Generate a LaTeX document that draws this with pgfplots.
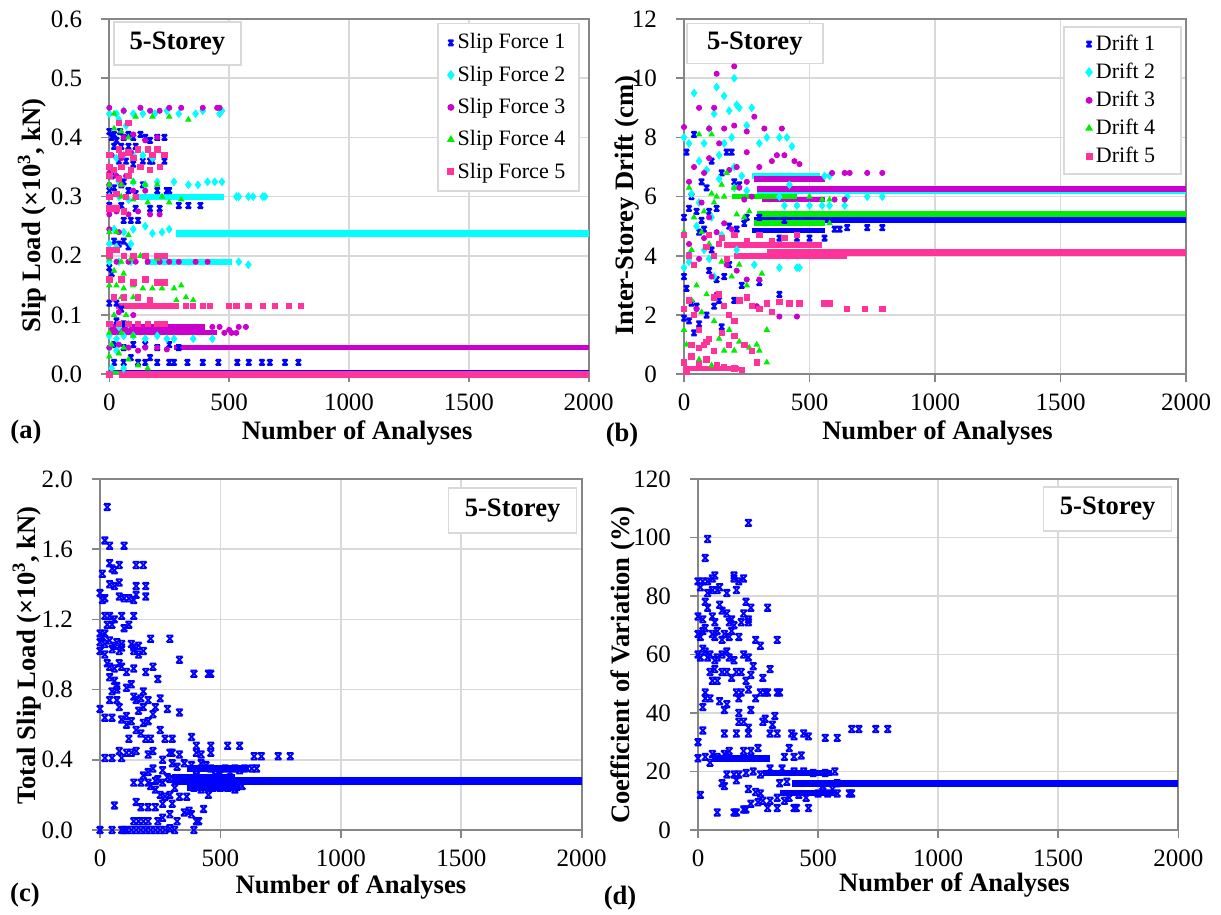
\documentclass[border=0pt]{standalone}
\usepackage{pgfplots}
\pgfplotsset{compat=1.18}
\usepackage{fontspec}
\setmainfont{Liberation Serif}

\definecolor{sfA}{HTML}{0000FF}
\definecolor{sfB}{HTML}{00FFFF}
\definecolor{sfC}{HTML}{CC00CC}
\definecolor{sfD}{HTML}{00EE00}
\definecolor{sfE}{HTML}{FF3399}
\definecolor{gridgray}{HTML}{D9D9D9}
\definecolor{framegray}{HTML}{868686}

% Excel-like "x" marker with bars on top and bottom
\pgfdeclareplotmark{xbar}{%
  \pgfpathmoveto{\pgfqpoint{-\pgfplotmarksize}{\pgfplotmarksize}}%
  \pgfpathlineto{\pgfqpoint{\pgfplotmarksize}{-\pgfplotmarksize}}%
  \pgfpathmoveto{\pgfqpoint{\pgfplotmarksize}{\pgfplotmarksize}}%
  \pgfpathlineto{\pgfqpoint{-\pgfplotmarksize}{-\pgfplotmarksize}}%
  \pgfpathmoveto{\pgfqpoint{-\pgfplotmarksize}{\pgfplotmarksize}}%
  \pgfpathlineto{\pgfqpoint{\pgfplotmarksize}{\pgfplotmarksize}}%
  \pgfpathmoveto{\pgfqpoint{-\pgfplotmarksize}{-\pgfplotmarksize}}%
  \pgfpathlineto{\pgfqpoint{\pgfplotmarksize}{-\pgfplotmarksize}}%
  \pgfusepathqstroke}

\newcommand{\labfont}{\bfseries\fontsize{13.3}{15}\selectfont}

\tikzset{storey/.style={draw=gridgray, line width=0.8pt, fill=white,
    font=\labfont, inner sep=0pt}}

\pgfplotsset{
  panel/.style={
    scale only axis, clip=false,
    xmin=0, xmax=2000, xtick={0,500,1000,1500,2000},
    grid=major, major grid style={draw=gridgray, line width=0.8pt},
    axis line style={draw=framegray, line width=1.1pt},
    tick style={draw=framegray, line width=0.8pt},
    tick align=outside, major tick length=4pt,
    xtick pos=left, ytick pos=left,
    ticklabel style={font=\fontsize{12.5}{14}\selectfont},
    xticklabel style={inner sep=1pt},
    /pgf/number format/assume math mode=true,
    /pgf/number format/1000 sep={},
    xticklabel shift=4.5pt, yticklabel shift=6pt,
    xlabel={Number of Analyses},
    legend style={draw=gridgray, line width=0.8pt, fill=white,
      font=\fontsize{11}{13}\selectfont, row sep=3pt,
      inner ysep=3pt},
    legend cell align=left,
  },
  ylab/.style 2 args={every axis y label/.style={at={(axis description cs:#1,#2)},
    rotate=90, anchor=center, font=\labfont}},
  xlab/.style 2 args={every axis x label/.style={at={(axis description cs:#1,#2)},
    anchor=center, font=\labfont, inner sep=0pt}},
  s1/.style={only marks, mark=xbar, mark size=1.3pt, color=sfA, line width=0.9pt},
  s2/.style={only marks, mark=diamond*, mark size=1.9pt, color=sfB},
  s3/.style={only marks, mark=*, mark size=1.3pt, color=sfC},
  s4/.style={only marks, mark=triangle*, mark size=1.5pt, color=sfD},
  s5/.style={only marks, mark=square*, mark size=1.35pt, color=sfE},
  band/.style={no marks, forget plot, line width=#1},
}

\begin{document}
\begin{tikzpicture}
\useasboundingbox (0,0) rectangle (610.5pt,457.5pt);

% ---------------- (a) slip loads of the five dampers ----------------
\begin{axis}[panel, at={(54.65pt,270.35pt)}, anchor=south west,
  width=239.7pt, height=177.65pt,
  ymin=0, ymax=0.6, ytick={0,0.1,0.2,0.3,0.4,0.5,0.6},
  yticklabel style={/pgf/number format/.cd, fixed, fixed zerofill, precision=1},
  ylabel={Slip Load (\texttimes10\textsuperscript{3}, kN)},
  ylab={-0.161}{0.448}, xlab={0.517}{-0.164},
  legend style={at={(0.982,0.989)}, anchor=north east,
    inner xsep=5pt}]

\addplot[s1] coordinates {
(0,0.41) (10,0.40) (20,0.405) (30,0.395) (45,0.41) (60,0.40) (80,0.405) (100,0.40)
(130,0.405) (150,0.40) (170,0.395) (200,0.40) (230,0.40)
(20,0.385) (50,0.385) (80,0.385) (110,0.385)
(40,0.36) (70,0.36) (100,0.355) (140,0.36) (170,0.36) (180,0.36) (230,0.36)
(10,0.335) (40,0.33) (60,0.325)
(0,0.31) (20,0.315) (50,0.32) (80,0.31) (110,0.305) (140,0.32) (200,0.31) (240,0.31) (250,0.31)
(0,0.285) (20,0.28) (50,0.285) (110,0.28) (170,0.28) (210,0.28) (290,0.285) (330,0.285) (380,0.285)
(60,0.26) (90,0.26) (120,0.26)
(20,0.225) (40,0.22) (60,0.225) (80,0.215)
(0,0.18) (10,0.17) (0,0.12) (30,0.12) (50,0.11) (30,0.09) (60,0.085)
(20,0.05) (60,0.045) (100,0.05) (150,0.05) (200,0.045) (250,0.05) (290,0.045)
(20,0.02) (60,0.02) (90,0.028) (120,0.02) (150,0.02) (170,0.028) (200,0.02) (250,0.02)
(270,0.02) (326,0.02) (390,0.02) (455,0.02) (534,0.02) (582,0.02) (637,0.02) (670,0.02)
(733,0.02) (789,0.02)
};
\addlegendentry{Slip Force 1}
\addplot[band=1.5pt, sfA] coordinates {(0,0.005) (2000,0.005)};

\addplot[s2] coordinates {
(0,0.44) (30,0.44) (60,0.445) (100,0.44) (140,0.44) (190,0.44) (240,0.445) (290,0.44)
(360,0.44) (390,0.445) (460,0.44) (470,0.445) (40,0.43) (70,0.42)
(0,0.37) (30,0.365) (60,0.37) (100,0.37) (140,0.37) (180,0.365)
(0,0.32) (40,0.325) (100,0.325) (150,0.32) (200,0.325) (270,0.325) (330,0.32) (370,0.32)
(410,0.325) (440,0.325) (470,0.325)
(0,0.30) (40,0.30) (80,0.295) (530,0.30) (540,0.30) (580,0.30) (600,0.30) (640,0.30) (650,0.30)
(20,0.245) (60,0.24) (100,0.245) (150,0.25) (180,0.238) (220,0.24) (250,0.245)
(0,0.22) (30,0.215) (90,0.22)
(0,0.19) (40,0.19) (90,0.19) (540,0.19) (580,0.185)
(0,0.085) (40,0.08) (80,0.085)
(0,0.065) (30,0.06) (60,0.065) (100,0.065) (150,0.06) (200,0.065) (240,0.06) (270,0.06)
(350,0.06) (430,0.06) (0,0.045) (30,0.04) (60,0.01) (10,0.01)
};
\addlegendentry{Slip Force 2}
\addplot[band=3pt, sfB] coordinates {(120,0.30) (480,0.30)};
\addplot[band=3pt, sfB] coordinates {(150,0.19) (510,0.19)};
\addplot[band=3.2pt, sfB] coordinates {(280,0.238) (2000,0.238)};

\addplot[s3] coordinates {
(0,0.45) (60,0.445) (130,0.45) (170,0.445) (210,0.445) (250,0.45) (300,0.45) (390,0.45) (450,0.45) (460,0.45)
(60,0.40) (100,0.405) (150,0.395) (200,0.40)
(10,0.37) (50,0.365) (90,0.375) (0,0.34) (30,0.335) (70,0.335)
(0,0.32) (50,0.32) (100,0.31) (150,0.31)
(0,0.27) (30,0.275) (80,0.27) (120,0.275) (170,0.27) (210,0.27) (0,0.245) (40,0.24)
(30,0.19) (80,0.19) (110,0.19) (160,0.19) (210,0.19) (250,0.19) (290,0.19) (360,0.19) (410,0.19)
(100,0.10) (40,0.105)
(430,0.08) (460,0.08) (500,0.075) (540,0.08) (570,0.08)
(480,0.07) (510,0.07) (530,0.07)
(0,0.045) (40,0.05) (80,0.045) (120,0.04) (150,0.045) (200,0.045) (240,0.042)
};
\addlegendentry{Slip Force 3}
\addplot[band=2.6pt, sfC] coordinates {(0,0.08) (400,0.08)};
\addplot[band=2.6pt, sfC] coordinates {(0,0.07) (450,0.07)};
\addplot[band=2.8pt, sfC] coordinates {(270,0.045) (2000,0.045)};

\addplot[s4] coordinates {
(20,0.44) (110,0.435) (180,0.435) (250,0.435) (330,0.43)
(20,0.415) (50,0.41) (80,0.40)
(0,0.32) (50,0.32) (100,0.325) (150,0.32) (200,0.32)
(50,0.30) (100,0.295) (160,0.29) (220,0.30) (250,0.29) (300,0.295)
(30,0.24) (80,0.235) (0,0.24)
(0,0.195) (50,0.19) (90,0.195) (130,0.20) (200,0.195) (20,0.175) (60,0.17)
(0,0.15) (30,0.15) (60,0.145) (100,0.15) (140,0.145) (180,0.145) (220,0.145) (270,0.145) (300,0.15)
(50,0.13) (100,0.13) (280,0.125) (320,0.13) (350,0.125)
(20,0.10) (70,0.10) (0,0.07) (50,0.07) (100,0.065) (10,0.05) (60,0.045)
(0,0.03) (40,0.035) (80,0.025) (120,0.015) (160,0.01)
};
\addlegendentry{Slip Force 4}
\addplot[band=1.5pt, sfD] coordinates {(0,0.003) (2000,0.003)};

\addplot[s5] coordinates {
(40,0.425) (80,0.425)
(40,0.38) (80,0.375) (120,0.38) (160,0.38) (200,0.38)
(0,0.37) (50,0.37) (100,0.365) (180,0.37) (230,0.37)
(0,0.35) (20,0.345) (50,0.35) (90,0.345) (130,0.35) (170,0.345) (210,0.35)
(0,0.335) (40,0.33) (80,0.335)
(0,0.30) (30,0.305) (70,0.30) (110,0.30) (0,0.28) (30,0.28) (60,0.275)
(0,0.21) (30,0.21) (0,0.20) (60,0.20) (100,0.20) (150,0.20) (200,0.20) (230,0.20)
(0,0.16) (50,0.16) (100,0.155) (150,0.16) (200,0.155) (230,0.155)
(20,0.13) (60,0.13) (120,0.13) (170,0.125)
(320,0.115) (350,0.115) (390,0.115) (420,0.115) (500,0.115) (530,0.115) (580,0.115) (640,0.115)
(690,0.115) (750,0.115) (800,0.115)
(0,0.085) (40,0.085) (80,0.085) (120,0.085) (160,0.085) (200,0.085) (230,0.085)
(0,0.0)
};
\addlegendentry{Slip Force 5}
\addplot[band=2.8pt, sfE] coordinates {(30,0.115) (290,0.115)};
\addplot[band=3.4pt, sfE] coordinates {(40,0.0) (2000,0.0)};

\node[storey, anchor=north west, minimum width=63.5pt, minimum height=21.5pt]
  at (axis description cs:0.008,0.994) {5-Storey};
\end{axis}

% ---------------- (b) inter-storey drifts ----------------
\begin{axis}[panel, at={(342pt,270.35pt)}, anchor=south west,
  width=251pt, height=177.65pt,
  ymin=0, ymax=12, ytick={0,2,4,6,8,10,12},
  ylabel={Inter-Storey Drift (cm)},
  ylab={-0.114}{0.474}, xlab={0.505}{-0.164},
  legend style={at={(0.992,0.980)}, anchor=north east, row sep=0.8pt,
    inner xsep=11pt, inner ysep=2pt}]

\addplot[s1] coordinates {
(10,7.5) (40,8.1) (0,5.3) (20,5.6) (30,6.0) (50,5.5) (70,5.2) (100,5.5) (130,5.6) (150,6.8)
(170,7.5) (190,7.5) (200,6.5) (220,6.4) (60,4.8) (80,4.9) (110,4.2) (20,4.0) (0,3.3) (10,2.9)
(30,2.4) (50,2.3) (0,1.9) (20,1.8) (40,1.4) (60,1.7) (90,2.0) (120,2.3) (140,2.5) (160,3.3)
(180,3.7) (200,2.5) (230,3.0) (300,3.1) (100,3.5) (130,3.2) (380,2.7) (150,1.6) (70,6.5)
(110,7.2) (90,6.3) (250,5.3) (300,5.3) (400,5.2) (180,5.0) (210,4.9) (240,5.1)
(600,4.9) (620,4.9) (650,4.95) (730,4.95) (790,4.95)
(380,4.6) (450,4.6) (500,4.6) (560,4.6)
};
\addlegendentry{Drift 1}
\addplot[band=2.8pt, sfA] coordinates {(270,4.85) (560,4.85)};
\addplot[band=3pt, sfA] coordinates {(280,5.2) (2000,5.2)};

\addplot[s2] coordinates {
(0,8.0) (20,7.8) (40,9.5) (60,7.2) (80,7.8) (100,8.3) (120,8.8) (130,9.7) (160,9.4) (180,8.9)
(200,10.0) (210,9.1) (220,9.0) (270,9.0) (140,7.4) (160,7.8) (190,8.0) (250,8.4) (300,7.8)
(330,8.0) (380,8.0) (410,8.0) (430,7.7) (30,6.1) (50,5.0) (80,4.2) (0,3.6) (20,3.8) (100,3.9)
(60,5.8) (140,6.6) (200,7.0) (150,4.7) (90,6.9) (110,5.3) (120,3.3) (280,3.7) (210,4.2)
(380,3.6) (450,3.6) (460,3.6) (380,6.0) (420,6.4) (230,6.7) (250,6.2) (200,6.3)
(560,6.7) (580,6.7) (400,5.7) (450,5.7) (500,5.7) (550,5.7) (580,5.7) (640,5.7)
(650,6.0) (730,6.0) (790,6.0)
};
\addlegendentry{Drift 2}
\addplot[band=2.8pt, sfB] coordinates {(270,6.7) (540,6.7)};
\addplot[band=3pt, sfB] coordinates {(290,6.18) (2000,6.18)};

\addplot[s3] coordinates {
(0,8.35) (60,9.0) (120,9.0) (130,10.15) (200,10.4) (100,8.3) (160,8.3) (200,8.4) (250,8.2)
(280,8.7) (320,8.3) (390,8.3) (40,7.0) (80,6.8) (100,7.3) (140,7.8) (180,6.9) (210,7.0)
(250,7.5) (300,7.0) (350,7.2) (370,7.4) (400,7.4) (440,7.2) (460,7.1) (20,6.5) (70,5.8)
(100,5.3) (130,4.8) (20,4.4) (40,3.7) (60,3.9) (80,4.6) (110,3.3) (130,2.7) (50,2.2)
(170,3.7) (210,3.5) (250,3.2) (300,3.2) (290,2.3) (380,1.95) (450,1.95) (160,5.1) (190,4.9)
(590,6.8) (640,6.8) (660,6.8) (730,6.8) (790,6.8) (600,5.9) (640,5.9)
(220,6.3) (250,6.5) (270,6.0) (240,5.9)
};
\addlegendentry{Drift 3}
\addplot[band=2.8pt, sfC] coordinates {(280,6.6) (560,6.6)};
\addplot[band=2.6pt, sfC] coordinates {(310,5.9) (560,5.9)};
\addplot[band=3pt, sfC] coordinates {(290,6.27) (2000,6.27)};

\addplot[s4] coordinates {
(20,6.3) (60,8.1) (110,8.1) (0,1.5) (10,1.0) (30,2.5) (50,3.0) (70,2.1) (90,2.7) (120,1.8)
(140,1.2) (160,0.8) (180,1.5) (200,0.8) (220,1.1) (260,0.9) (290,1.0) (300,0.8) (330,0.4)
(330,1.5) (310,3.4) (250,3.0) (220,3.7) (190,3.3) (150,3.8) (100,4.4) (70,4.8) (40,5.3)
(30,4.2) (0,4.8) (80,5.5) (130,6.0) (150,6.4) (170,6.8) (120,5.8) (200,6.3) (40,2.0)
(60,0.5) (110,0.3) (500,6.0) (550,5.9) (580,5.9) (580,5.1) (210,5.4) (240,5.3) (260,5.5)
(110,6.1) (160,6.0)
};
\addlegendentry{Drift 4}
\addplot[band=2.6pt, sfD] coordinates {(190,6.0) (450,6.0)};
\addplot[band=2.8pt, sfD] coordinates {(280,5.1) (560,5.1)};
\addplot[band=3pt, sfD] coordinates {(290,5.4) (2000,5.4)};

\addplot[s5] coordinates {
(0,0.4) (30,0.6) (60,0.35) (90,0.5) (130,0.3) (160,0.25) (200,0.2) (230,0.15) (10,0.1)
(0,4.7) (20,4.0) (40,3.7) (0,2.2) (20,2.5) (40,2.0) (60,1.5) (80,1.0) (100,1.2) (120,2.6)
(140,2.7) (160,2.3) (180,2.0) (200,1.8) (220,2.5) (250,2.6) (270,2.3) (300,2.2) (330,2.4)
(350,2.1) (60,0.9) (90,1.1) (120,0.8) (150,1.4) (180,1.0) (200,1.3) (240,1.0) (270,0.8)
(290,0.4) (30,1.0) (380,2.45) (420,2.4) (460,2.4) (560,2.4) (580,2.4) (650,2.2) (720,2.2)
(790,2.2) (100,4.7) (150,4.6) (200,4.7) (250,4.5) (300,4.7) (350,4.5) (400,4.6) (450,4.7)
(90,4.3) (120,4.0) (140,4.4) (170,3.9)
};
\addlegendentry{Drift 5}
\addplot[band=2.6pt, sfE] coordinates {(0,0.2) (220,0.2)};
\addplot[band=3pt, sfE] coordinates {(160,4.35) (550,4.35)};
\addplot[band=3pt, sfE] coordinates {(200,4.0) (650,4.0)};
\addplot[band=3.2pt, sfE] coordinates {(330,4.12) (2000,4.12)};

\node[storey, anchor=north west, minimum width=68pt, minimum height=20pt]
  at (axis description cs:0.004,0.989) {5-Storey};
\end{axis}

% ---------------- (c) total slip load ----------------
\begin{axis}[panel, at={(50pt,42.5pt)}, anchor=south west,
  width=240.85pt, height=175.5pt,
  ymin=0, ymax=2, ytick={0,0.4,0.8,1.2,1.6,2.0},
  yticklabel style={/pgf/number format/.cd, fixed, fixed zerofill, precision=1},
  ylabel={Total Slip Load (\texttimes10\textsuperscript{3}, kN)},
  ylab={-0.152}{0.497}, xlab={0.521}{-0.163}]

\addplot[s1, mark size=1.6pt] coordinates {
(30,1.84) (20,1.65) (40,1.62) (100,1.62) (10,1.46) (40,1.52) (50,1.49) (60,1.48) (80,1.51)
(150,1.51) (180,1.51) (40,1.40) (60,1.39) (80,1.41) (150,1.39) (190,1.39) (0,1.35) (10,1.31)
(20,1.32) (80,1.33) (100,1.32) (120,1.32) (140,1.31) (150,1.34) (190,1.33) (20,1.22) (40,1.22)
(60,1.20) (90,1.22) (140,1.22) (30,1.17) (50,1.17) (100,1.15) (120,1.17) (0,1.12) (10,1.10)
(20,1.12) (0,1.07) (20,1.06) (40,1.08) (60,1.05) (70,1.07) (90,1.06) (130,1.06) (140,1.04)
(160,1.05) (180,1.02) (210,1.09) (290,1.09) (0,1.02) (20,1.00) (50,1.03) (80,1.02) (90,1.04)
(140,1.02) (160,1.00) (30,0.95) (40,0.93) (60,0.92) (80,0.95) (90,0.93) (110,0.90) (140,0.92)
(190,0.90) (220,0.93) (330,0.97) (390,0.89) (450,0.89) (460,0.89) (40,0.87) (60,0.85) (70,0.82)
(110,0.81) (130,0.83) (240,0.86) (50,0.79) (70,0.80) (180,0.79) (140,0.76) (150,0.74) (170,0.75)
(200,0.74) (250,0.75) (40,0.74) (70,0.74) (80,0.70) (0,0.69) (160,0.68) (180,0.70) (230,0.70)
(280,0.69) (330,0.67) (20,0.64) (50,0.64) (90,0.63) (110,0.65) (130,0.62) (150,0.57) (180,0.61)
(200,0.62) (220,0.66) (110,0.60)
(120,0.52) (170,0.55) (190,0.52) (210,0.52) (250,0.57) (270,0.52) (300,0.52) (380,0.53)
(400,0.48) (460,0.48) (530,0.48) (580,0.48) (640,0.42) (670,0.42) (740,0.42) (790,0.42)
(20,0.41) (50,0.41) (90,0.41) (80,0.45) (110,0.44) (130,0.44) (150,0.45) (200,0.43) (220,0.45)
(260,0.40) (290,0.44) (300,0.44) (330,0.43) (400,0.44) (420,0.43) (460,0.44)
(180,0.31) (200,0.33) (220,0.35) (240,0.29) (260,0.34) (280,0.30) (300,0.38) (320,0.36)
(350,0.38) (380,0.37) (400,0.34) (420,0.38) (440,0.37) (460,0.35) (480,0.34) (500,0.32)
(520,0.35) (540,0.33) (560,0.35) (580,0.34) (600,0.35) (630,0.35) (650,0.35)
(210,0.25) (230,0.23) (250,0.20) (270,0.19) (290,0.20) (310,0.24) (330,0.19) (360,0.19)
(390,0.24) (420,0.23) (450,0.20) (470,0.24) (500,0.24) (530,0.24) (560,0.23) (590,0.25)
(200,0.13) (230,0.13) (260,0.15) (300,0.15) (350,0.10) (370,0.11) (430,0.12) (380,0.09)
(140,0.05) (160,0.05) (180,0.05) (200,0.05) (240,0.05) (260,0.07) (290,0.09) (320,0.05)
(400,0.05) (410,0.05) (60,0.14) (150,0.16) (170,0.13) (140,0.27) (170,0.27) (200,0.27)
(230,0.28) (260,0.27) (290,0.29)
(0,0.0) (50,0.0) (90,0.0) (100,0.0) (110,0.0) (130,0.0) (150,0.0) (170,0.0) (190,0.0)
(210,0.0) (230,0.0) (250,0.0) (270,0.0) (290,0.01) (310,0.0) (390,0.0)
};
\addplot[band=3.2pt, sfA] coordinates {(360,0.35) (620,0.35)};
\addplot[band=3pt, sfA] coordinates {(300,0.30) (560,0.30)};
\addplot[band=3pt, sfA] coordinates {(360,0.24) (580,0.24)};
\addplot[band=4pt, sfA] coordinates {(300,0.28) (2000,0.28)};

\node[storey, anchor=north west, minimum width=64pt, minimum height=22.5pt]
  at (axis description cs:0.722,0.977) {5-Storey};
\end{axis}

% ---------------- (d) coefficient of variation ----------------
\begin{axis}[panel, at={(349pt,42.5pt)}, anchor=south west,
  width=240.15pt, height=175.5pt,
  ymin=0, ymax=120, ytick={0,20,40,60,80,100,120},
  ylabel={Coefficient of Variation (\%)},
  ylab={-0.156}{0.47}, xlab={0.534}{-0.157}]

\addplot[s1, mark size=1.6pt] coordinates {
(40,99.5) (30,93) (210,105) (20,85) (0,85) (10,83) (40,85) (60,86) (70,87) (30,78) (40,81)
(60,82) (80,82) (90,83) (120,81) (150,87) (150,86) (170,85) (190,86) (160,82) (200,78) (190,74)
(210,71) (210,72) (220,76) (290,76) (0,73) (20,72) (40,76) (60,73) (70,71) (90,77) (100,75)
(120,74) (130,71) (140,72) (150,70) (180,71) (0,67) (10,66) (20,68) (30,69) (60,67) (70,66)
(80,68) (100,65) (110,67) (130,66) (140,68) (170,66) (240,65) (260,63) (330,65) (0,60) (10,59)
(20,62) (30,61) (40,59) (50,60) (70,58) (80,59) (100,60) (120,61) (130,59) (150,58) (190,60)
(210,59) (50,54) (70,55) (100,54) (120,54) (140,52) (160,54) (180,54) (200,51) (220,53)
(230,56) (270,52) (300,55) (60,51) (80,51) (30,47) (50,45) (30,45) (20,42) (90,44) (120,43)
(160,47) (170,45) (180,47) (210,48) (240,45) (260,47) (280,47) (290,47) (330,47) (340,47)
(110,41) (170,40) (220,41) (170,37) (190,37) (270,37) (280,38) (310,36) (320,39) (20,34)
(110,33) (160,33) (210,33) (210,35) (300,33) (330,33) (390,33) (400,32) (440,33) (460,32)
(530,31.5) (580,31.5) (640,34.5) (670,34.5) (740,34.5) (790,34.5) (0,30) (0,24.5) (30,25)
(50,23) (60,26) (80,25) (110,26) (130,27) (190,27) (220,27) (250,28) (380,28) (430,25.5)
(360,25) (400,25) (100,16) (110,15) (120,19) (150,19) (170,19) (160,17) (210,14) (220,9)
(260,12.5) (240,13) (250,9.5) (270,10) (290,7.5) (330,7.5) (300,10) (400,7.5) (410,7.5)
(460,7.5) (80,6) (150,6) (160,6) (190,7) (200,7) (10,12) (330,11) (360,10) (380,11) (450,11)
(420,12) (500,12.5) (540,12.5) (580,12.5) (630,12.5) (640,12.5) (300,21) (350,21) (400,20)
(440,20) (480,19.5) (530,19.5) (570,20) (520,15) (560,14) (580,16) (340,16) (370,16.5)
(200,19.5) (230,20) (260,19)
};
\addplot[band=3.2pt, sfA] coordinates {(60,24.5) (300,24.5)};
\addplot[band=3.2pt, sfA] coordinates {(270,19.5) (560,19.5)};
\addplot[band=3pt, sfA] coordinates {(340,12.5) (580,12.5)};
\addplot[band=3.6pt, sfA] coordinates {(390,16) (2000,16)};

\node[storey, anchor=north west, minimum width=64pt, minimum height=22pt]
  at (axis description cs:0.718,0.98) {5-Storey};
\end{axis}

% panel letters
\node[font=\labfont] at (13pt,241.5pt) {(a)};
\node[font=\labfont] at (311pt,240pt) {(b)};
\node[font=\labfont] at (12.5pt,10pt) {(c)};
\node[font=\labfont] at (310pt,8.5pt) {(d)};
\end{tikzpicture}
\end{document}
